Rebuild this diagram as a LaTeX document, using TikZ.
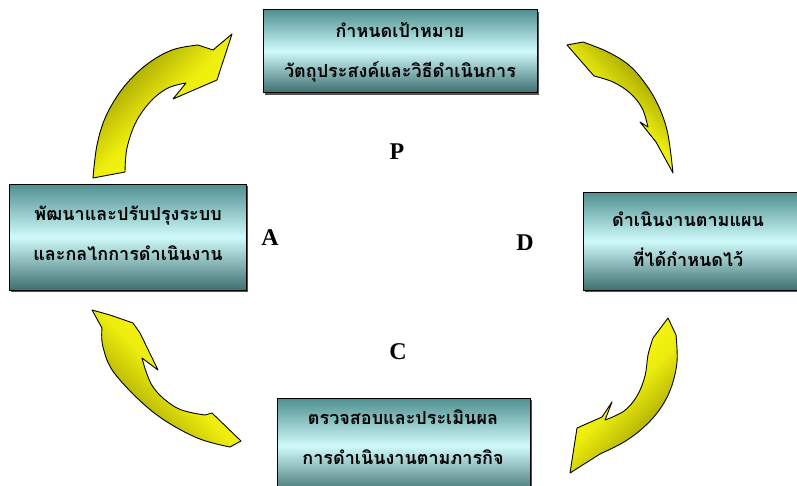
\documentclass[tikz,border=0pt]{standalone}
\usepackage{fontspec}
\setmainfont{Liberation Serif}
\newfontfamily\thaifont[Script=Thai]{Loma}
\usetikzlibrary{shadows}
\definecolor{boxtop}{HTML}{4F8F90}
\definecolor{boxmid}{HTML}{CFFAFA}
\definecolor{boxbot}{HTML}{3F6F70}
\definecolor{arrdark}{HTML}{8A8A00}
\definecolor{arrlight}{HTML}{FFFF10}
\tikzset{
  boxst/.style={draw=black, line width=0.9pt, top color=boxtop, bottom color=boxbot, middle color=boxmid,
    drop shadow={shadow xshift=2pt, shadow yshift=-2pt, fill=black!75, opacity=0.9},
    inner sep=0pt, rectangle},
  txt/.style={font=\thaifont\bfseries\fontsize{18}{40}\selectfont, align=center, inner sep=0pt, text=black},
  letter/.style={font=\bfseries\fontsize{24}{24}\selectfont, inner sep=0pt},
  arrowst/.style={draw=black, line width=0.9pt, line join=round, top color=arrdark, bottom color=arrlight, middle color=arrlight!85!arrdark},
}
\begin{document}
\begin{tikzpicture}[x=1pt,y=-1pt]
\useasboundingbox (0,0) rectangle (797,485);
\fill[white] (0,0) rectangle (797,485);

% boxes
\node[boxst, minimum width=274pt, minimum height=83pt] (pbox) at (400,51) {};
\node[txt] (ptext) at (400,52) {กำหนดเป้าหมาย\\วัตถุประสงค์และวิธีดำเนินการ};

\node[boxst, minimum width=237pt, minimum height=106pt] (abox) at (127.5,237) {};
\node[txt] (atext) at (128,233) {พัฒนาและปรับปรุงระบบ\\และกลไกการดำเนินงาน};

\node[boxst, minimum width=216pt, minimum height=98pt] (dbox) at (691,241) {};
\node[txt] (dtext) at (688,239) {ดำเนินงานตามแผน\\ที่ได้กำหนดไว้};

\node[boxst, minimum width=253pt, minimum height=96pt] (cbox) at (403.5,446) {};
\node[txt] (ctext) at (403,437) {ตรวจสอบและประเมินผล\\การดำเนินงานตามภารกิจ};

% letters
\node[letter] (P) at (397,152) {P};
\node[letter] (A) at (270,238) {A};
\node[letter] (D) at (525,243) {D};
\node[letter] (C) at (398,352) {C};

% arrow top-left (A -> P)
\path[arrowst, shading angle=45] (93,178) -- plot[smooth,tension=0.6] coordinates {(125,172) (127,148) (136,122) (151,101) (168,88) (186,83)}
  -- (173,99) -- (217,80) -- (232,34) -- (213,50)
  -- plot[smooth,tension=0.6] coordinates {(198,45) (172,50) (146,65) (123,88) (106,116) (97,145) (93,178)} -- cycle;

% arrow top-right (P -> D)
\path[arrowst, shading angle=-45] (567,45) -- plot[smooth,tension=0.6] coordinates {(583,42) (608,52) (630,66) (647,86) (659,107) (667,130) (671,155)}
  -- (673,173) -- (656,142) -- (640,122) -- (648,127)
  -- plot[smooth,tension=0.6] coordinates {(648,127) (642,108) (630,93) (613,82) (594,76)} -- cycle;

% arrow bottom-right (D -> C)
\path[arrowst, shading angle=-135] (668,318) -- plot[smooth,tension=0.6] coordinates {(676,335) (677,362) (671,388) (660,409) (644,427) (624,442) (600,454)}
  -- (570,473) -- (577,428) -- (602,417) -- (612,402) -- (605,420)
  -- plot[smooth,tension=0.6] coordinates {(605,420) (624,411) (637,396) (645,376) (648,355) (653,338)} -- cycle;

% arrow bottom-left (C -> A)
\path[arrowst, shading angle=135] (92,310) -- (110,315) -- (133,323) -- (140,333) -- (158,370) -- (142,358)
  -- plot[smooth,tension=0.6] coordinates {(142,358) (153,387) (177,408) (205,415)} -- (212,413) -- (241,441) -- (230,447)
  -- plot[smooth,tension=0.6] coordinates {(230,447) (195,437) (153,412) (115,374) (103,347) (102,328)} -- cycle;
\end{tikzpicture}
\end{document}
